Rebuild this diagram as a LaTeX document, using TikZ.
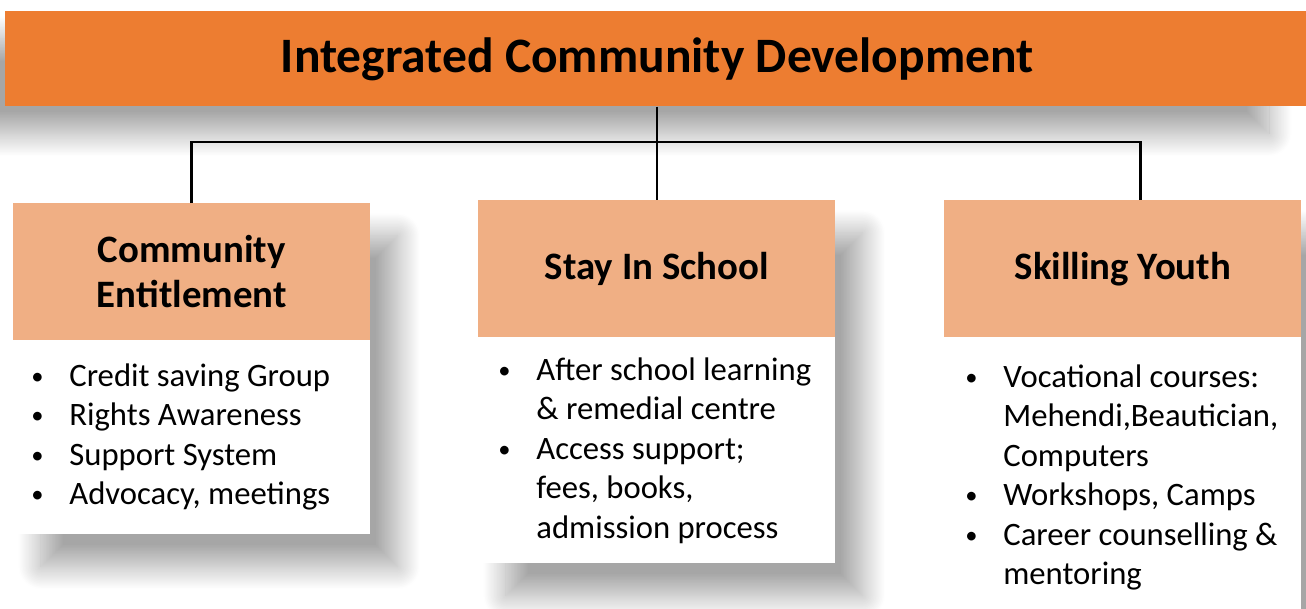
\documentclass[tikz,border=0pt]{standalone}
\usepackage{fontspec}
\setmainfont{Carlito}
\usetikzlibrary{positioning,shadows.blur}

\definecolor{titleorange}{HTML}{ED7D31}
\definecolor{headorange}{HTML}{F0AF84}
\newcommand{\listfont}{\fontsize{18.6}{22.5}\selectfont}
\newcommand{\blt}{\raisebox{0.12ex}{\scalebox{0.75}{\textbullet}}}

\begin{document}
\begin{tikzpicture}[x=0.02cm,y=-0.02cm]

\tikzset{titlebox/.style={fill=titleorange,inner sep=0,anchor=north west,
  minimum width=26.08cm,minimum height=1.9cm,font=\fontsize{28.2}{32}\selectfont\bfseries,
  blur shadow={shadow xshift=-0.8cm,shadow yshift=-0.55cm,shadow blur radius=0.45cm,
    shadow opacity=35,shadow blur steps=30}},
headbox/.style={fill=headorange,inner sep=0,align=center,
  minimum width=7.14cm,minimum height=2.74cm,font=\fontsize{22.1}{25.5}\selectfont\bfseries},
colbox/.style={fill=white,inner sep=0,anchor=north west,minimum width=7.14cm,
  blur shadow={shadow xshift=0.55cm,shadow yshift=-0.65cm,shadow blur radius=0.45cm,
    shadow opacity=35,shadow blur steps=30}},
itemlist/.style={inner sep=0,anchor=base west,font=\listfont},
connector/.style={line width=1.7pt,black}}

\useasboundingbox (0,0) rectangle (1306,609);

% Title
\node[titlebox] (title) at (5,11) {Integrated Community Development};

% Column boxes (white, with shadow)
\node[colbox,minimum height=6.62cm] (entBody) at (13,203) {};
\node[colbox,minimum height=7.26cm] (schBody) at (478,200) {};
\node[colbox,minimum height=9.0cm] (skBody) at (944,200) {};

% Column heads
\node[headbox,below=0pt of entBody.north] (entHead) {Community\\Entitlement};
\node[headbox,below=0pt of schBody.north] (schHead) {Stay In School};
\node[headbox,below=0pt of skBody.north] (skHead) {Skilling Youth};

% Bullet lists
\node[itemlist] (entList) at (31,386) {\begin{tabular}[t]{@{}p{0.76cm}@{}l@{}}
\blt & Credit saving Group\\
\blt & Rights Awareness\\
\blt & Support System\\
\blt & Advocacy, meetings
\end{tabular}};
\node[itemlist] (schList) at (498,380) {\begin{tabular}[t]{@{}p{0.76cm}@{}l@{}}
\blt & After school learning\\
 & \& remedial centre\\
\blt & Access support;\\
 & fees, books,\\
 & admission process
\end{tabular}};
\node[itemlist] (skList) at (965,387) {\begin{tabular}[t]{@{}p{0.76cm}@{}l@{}}
\blt & Vocational courses:\\
 & Mehendi,Beautician,\\
 & Computers\\
\blt & Workshops, Camps\\
\blt & Career counselling \&\\
 & mentoring
\end{tabular}};

%% Connectors
\coordinate (bus) at (657,142);
\coordinate (skDrop) at (1140,200);
\draw[connector] (title.south -| bus) -- (schHead.north -| bus);
\draw[connector] (entHead.north) |- (skDrop |- bus) -- (skDrop);
\end{tikzpicture}
\end{document}
